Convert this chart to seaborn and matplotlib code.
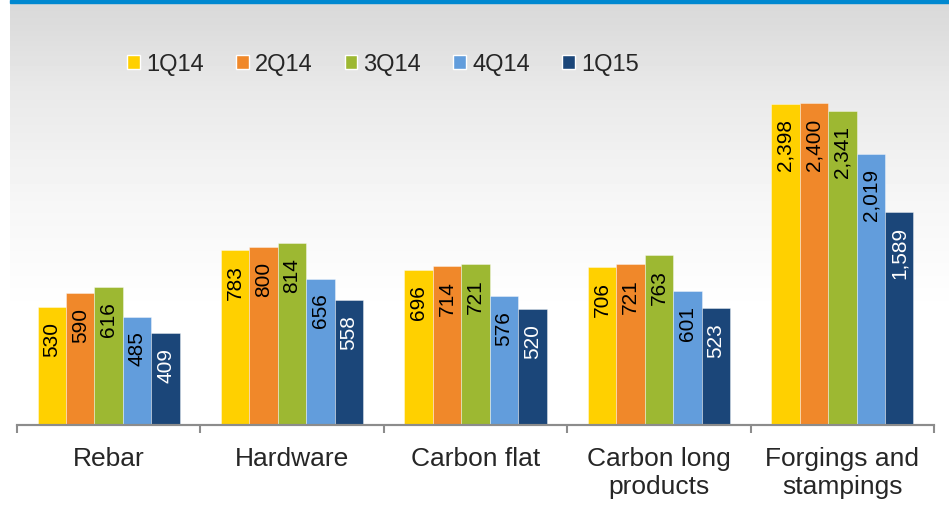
import numpy as np
import pandas as pd
import seaborn as sns
import matplotlib.pyplot as plt
from matplotlib.patches import Patch, Rectangle

categories = ['Rebar', 'Hardware', 'Carbon flat', 'Carbon long\nproducts', 'Forgings and\nstampings']
quarters = ['1Q14', '2Q14', '3Q14', '4Q14', '1Q15']
colors = ['#FFD000', '#F0882A', '#9DB832', '#629DDC', '#1B4679']

rebar = [530, 590, 616, 485, 409]
hardware = [783, 800, 814, 656, 558]
carbon_flat = [696, 714, 721, 576, 520]
carbon_long = [706, 721, 763, 601, 523]
forgings = [2398, 2400, 2341, 2019, 1589]

rows = []
for cat, vals in zip(categories, [rebar, hardware, carbon_flat, carbon_long, forgings]):
    for q, v in zip(quarters, vals):
        rows.append({'category': cat, 'quarter': q, 'value': v})
df = pd.DataFrame(rows)

sns.set_theme(style='white')
plt.rcParams['font.family'] = ['Liberation Sans', 'DejaVu Sans']

W, H = 949, 505
fig = plt.figure(figsize=(W / 100, H / 100), dpi=100)

# background gradient (grey at top fading to white)
bg = fig.add_axes([10 / W, 0, 1 - 10 / W, 1 - 3 / H], zorder=-10)
ypix = np.arange(3, H)
grey = np.interp(ypix, [3, 30, 90, 200, 300, 330], [217, 221, 233, 246, 254, 255]) / 255.0
img = np.repeat(grey[:, None], 2, axis=1)
bg.imshow(img, cmap='gray', vmin=0, vmax=1, aspect='auto', extent=[0, 1, 0, 1])
bg.set_axis_off()
fig.patches.append(Rectangle((10 / W, 1 - 3 / H), 1 - 10 / W, 3 / H,
                             transform=fig.transFigure, color='#0088D0', zorder=5))

left, right, bottom, top = 17, 934, 424.5, 4
ax = fig.add_axes([left / W, 1 - bottom / H, (right - left) / W, (bottom - top) / H])
ax.patch.set_alpha(0)
ax2 = ax.twinx()

main = df[df['category'] != categories[-1]]
side = df[df['category'] == categories[-1]]

common = dict(x='category', y='value', hue='quarter', order=categories, hue_order=quarters,
              palette=colors, width=0.775, saturation=1, errorbar=None, legend=False,
              edgecolor=(1, 1, 1, 0.45), linewidth=0.6)
sns.barplot(data=main, ax=ax, **common)
sns.barplot(data=side, ax=ax2, **common)

px_h = bottom - top
ax.set_ylim(0, px_h / 0.2225)
ax2.set_ylim(0, px_h / 0.1338)

for a in (ax, ax2):
    a.set_xlim(-0.5, 4.5)
    for p in a.patches:
        h = p.get_height()
        if not np.isfinite(h) or h <= 0:
            continue
        fc = p.get_facecolor()
        lum = 0.299 * fc[0] + 0.587 * fc[1] + 0.114 * fc[2]
        a.annotate(f'{h:,.0f}', (p.get_x() + p.get_width() / 2, h),
                   xytext=(0, -15), textcoords='offset pixels', rotation=90,
                   rotation_mode='anchor', ha='right', va='center', fontsize=15,
                   color='white' if lum < 0.4 else 'black')
    a.set_xlabel('')
    a.set_ylabel('')
    a.set_yticks([])
    for s in ('left', 'right', 'top'):
        a.spines[s].set_visible(False)
    a.spines['bottom'].set_color('#8C8C8C')
    a.spines['bottom'].set_linewidth(1.5)

ax2.xaxis.set_visible(False)
ax.xaxis.set_visible(True)
ax.set_xticks(range(len(categories)))
ax.set_xticklabels(categories, fontsize=19, linespacing=1.2)
ax.set_xticks(np.arange(-0.5, 5, 1), minor=True)
ax.tick_params(axis='x', which='major', length=0, pad=16, labelbottom=True)
ax.tick_params(axis='x', which='minor', length=6, width=1.5, color='#8C8C8C',
               direction='out', bottom=True)

handles = [Patch(facecolor=c, label=q) for c, q in zip(colors, quarters)]
fig.legend(handles=handles, loc='center left', bbox_to_anchor=(127 / W, 1 - 64.6 / H),
           ncol=5, frameon=False, fontsize=17, handlelength=0.55, handleheight=0.55,
           handletextpad=0.25, columnspacing=1.36, borderpad=0, borderaxespad=0)

fig.savefig('out.png', dpi=100)
